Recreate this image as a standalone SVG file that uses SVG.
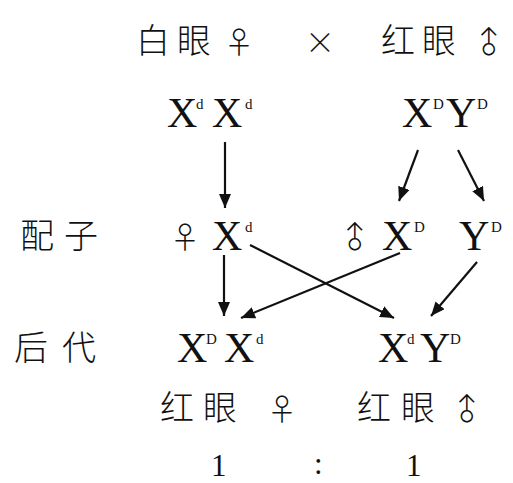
<svg xmlns="http://www.w3.org/2000/svg" width="513" height="483" viewBox="0 0 513 483">
<defs>
<style>
.cn{font-family:"Noto Sans CJK SC","Noto Sans",sans-serif;font-size:34px;font-weight:300;fill:#111;}
.sym{font-family:"Noto Sans CJK SC","DejaVu Sans",sans-serif;font-size:30px;font-weight:300;fill:#111;}
.x{font-family:"Liberation Serif",serif;font-size:42px;fill:#111;}
.sup{font-family:"Liberation Serif",serif;font-size:15px;fill:#111;}
.num{font-family:"Liberation Serif",serif;font-size:31px;fill:#111;}
.arr{stroke:#111;stroke-width:2.2;fill:none;marker-end:url(#ah);}
</style>
<marker id="ah" viewBox="0 0 14 12" refX="14" refY="6" markerWidth="14" markerHeight="12" markerUnits="userSpaceOnUse" orient="auto">
<path d="M0,0 L14,6 L0,12 Z" fill="#111"/>
</marker>
</defs>
<rect width="513" height="483" fill="#fff"/>

<g id="parents-pheno">
<text class="cn" x="136" y="53">白</text>
<text class="cn" x="177" y="53">眼</text>
<text class="sym" x="224" y="53">♀</text>
<text class="sym" x="305" y="53" font-family="Liberation Sans">×</text>
<text class="cn" x="381" y="53">红</text>
<text class="cn" x="422" y="53">眼</text>
<text class="sym" x="474" y="53" transform="rotate(-45 489 42)">♂</text>
</g>

<g id="parent-female">
<text class="x" x="167" y="127">X</text>
<text class="sup" x="196" y="109">d</text>
<text class="x" x="212" y="127">X</text>
<text class="sup" x="245" y="109">d</text>
</g>
<g id="parent-male">
<text class="x" x="402" y="127">X</text>
<text class="sup" x="433" y="109">D</text>
<text class="x" x="446" y="127">Y</text>
<text class="sup" x="477" y="109">D</text>
</g>

<g id="label-gamete">
<text class="cn" x="20" y="248">配</text>
<text class="cn" x="64" y="248">子</text>
</g>
<g id="gamete-female">
<text class="sym" x="170" y="248">♀</text>
<text class="x" x="212" y="250">X</text>
<text class="sup" x="245" y="232">d</text>
</g>
<g id="gamete-male-x">
<text class="sym" x="340" y="248" transform="rotate(-45 355 237)">♂</text>
<text class="x" x="382" y="250">X</text>
<text class="sup" x="414" y="232">D</text>
</g>
<g id="gamete-male-y">
<text class="x" x="459" y="250">Y</text>
<text class="sup" x="491" y="232">D</text>
</g>

<g id="label-offspring">
<text class="cn" x="14" y="360">后</text>
<text class="cn" x="62" y="360">代</text>
</g>
<g id="offspring-female">
<text class="x" x="177" y="362">X</text>
<text class="sup" x="206" y="344">D</text>
<text class="x" x="224" y="362">X</text>
<text class="sup" x="256" y="344">d</text>
<text class="cn" x="160" y="420">红</text>
<text class="cn" x="203" y="420">眼</text>
<text class="sym" x="267" y="420">♀</text>
<text class="num" x="211" y="476">1</text>
</g>
<g id="offspring-male">
<text class="x" x="378" y="362">X</text>
<text class="sup" x="407" y="344">d</text>
<text class="x" x="420" y="362">Y</text>
<text class="sup" x="450" y="344">D</text>
<text class="cn" x="357" y="420">红</text>
<text class="cn" x="401" y="420">眼</text>
<text class="sym" x="452" y="420" transform="rotate(-45 467 409)">♂</text>
<text class="num" x="406" y="476">1</text>
</g>
<g id="ratio">
<text class="num" x="314" y="474">:</text>
</g>

<g id="connectors">
<line class="arr" x1="225" y1="142" x2="225" y2="208"/>
<line class="arr" x1="418" y1="150" x2="399" y2="201"/>
<line class="arr" x1="458" y1="150" x2="484" y2="201"/>
<line class="arr" x1="224" y1="255" x2="224" y2="316"/>
<line class="arr" x1="250" y1="245" x2="394" y2="318"/>
<line class="arr" x1="400" y1="253" x2="241" y2="318"/>
<line class="arr" x1="477" y1="262" x2="431" y2="316"/>
</g>
</svg>
